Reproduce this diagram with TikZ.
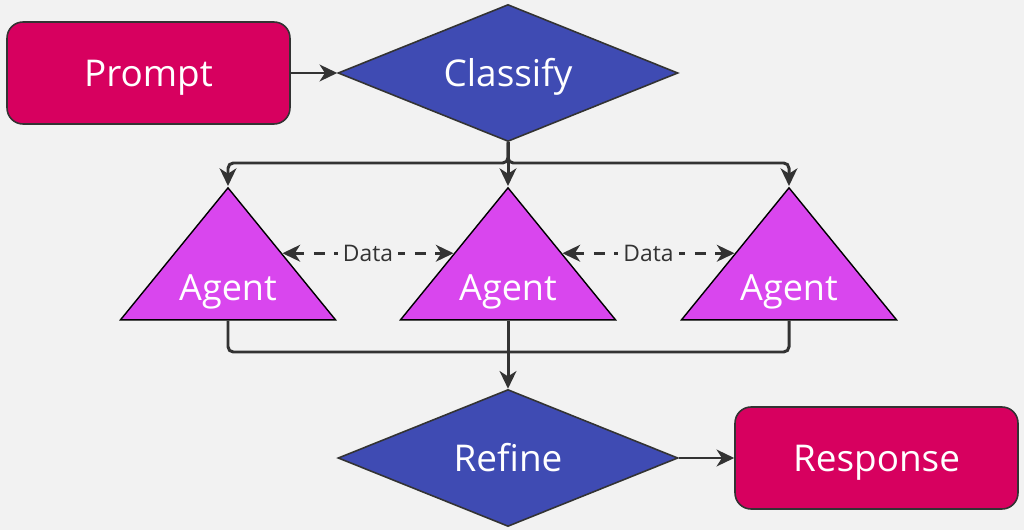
\documentclass[tikz,border=0pt]{standalone}
\usepackage{fontspec}
\setmainfont{Open Sans}
\usetikzlibrary{arrows.meta, shapes.geometric, calc}
\definecolor{bgc}{HTML}{F2F2F2}
\definecolor{pinkc}{HTML}{D7005F}
\definecolor{bluec}{HTML}{3F4BB3}
\definecolor{agentc}{HTML}{D946EE}
\definecolor{linec}{HTML}{333333}
\begin{document}
\begin{tikzpicture}[
    x=0.02cm, y=-0.02cm,
    >={Stealth[length=10pt, width=9.5pt, inset=3pt]},
    endbox/.style={rectangle, rounded corners=0.32cm, draw=linec, line width=0.9pt,
        fill=pinkc, text=white, minimum width=5.66cm, minimum height=2.04cm,
        text height=15pt, text depth=0pt, font=\fontsize{21}{25}\selectfont},
    decision/.style={diamond, aspect=2.5, draw=linec, line width=0.9pt, fill=bluec, text=white,
        minimum width=6.8cm, minimum height=2.74cm, inner sep=0pt,
        text height=15pt, text depth=0pt, font=\fontsize{21}{25}\selectfont},
    agent/.style={isosceles triangle, isosceles triangle stretches, shape border rotate=90,
        draw=black, line width=0.8pt, fill=agentc, minimum width=4.3cm,
        minimum height=2.64cm, inner sep=0pt, anchor=apex},
    agenttxt/.style={text=white, text height=14.5pt, text depth=0pt,
        font=\fontsize{20.5}{24}\selectfont},
    arr/.style={->, draw=linec, line width=1.7pt},
    darr/.style={<->, draw=linec, line width=1.7pt, dash pattern=on 6pt off 5.5pt},
    datalbl/.style={fill=bgc, inner sep=3pt, text=linec, font=\fontsize{13}{15}\selectfont}
]
    % background and page size
    \useasboundingbox (0,0) rectangle (1024,530);
    \fill[bgc] (0,0) rectangle (1024,530);

    % upper row
    \node[endbox] (prm) at (148.5,73) {Prompt};
    \node[decision] (cls) at (508,73) {Classify};

    % three agents
    \node[agent] (ag1) at (228,186) {};
    \node[agent] (ag2) at (508,186) {};
    \node[agent] (ag3) at (789,186) {};
    \node[agenttxt] (ag1t) at (228,288) {Agent};
    \node[agenttxt] (ag2t) at (508,288) {Agent};
    \node[agenttxt] (ag3t) at (789,288) {Agent};

    % lower row
    \node[decision] (ref) at (508,458) {Refine};
    \node[endbox] (rsp) at (876.5,458) {Response};

    % fork and join points
    \coordinate (fork) at (508,163);
    \coordinate (join) at (508,352);

    % connectors
    \draw[arr] (prm.east) -- (cls.west);
    \draw[arr, rounded corners=3pt] (cls.south) -- (fork) -| (ag1.apex);
    \draw[arr, rounded corners=3pt] (cls.south) -- (fork) -| (ag3.apex);
    \draw[arr] (cls.south) -- (ag2.apex);

    \draw[darr] (ag1.right side) -- node[datalbl] {Data} (ag2.left side);
    \draw[darr] (ag2.right side) -- node[datalbl] {Data} (ag3.left side);

    \draw[linec, line width=1.7pt, rounded corners=3pt] (ag1.south) |- (join);
    \draw[linec, line width=1.7pt, rounded corners=3pt] (ag3.south) |- (join);
    \draw[arr] (ag2.south) -- (ref.north);
    \draw[arr] (ref.east) -- (rsp.west);
\end{tikzpicture}
\end{document}
